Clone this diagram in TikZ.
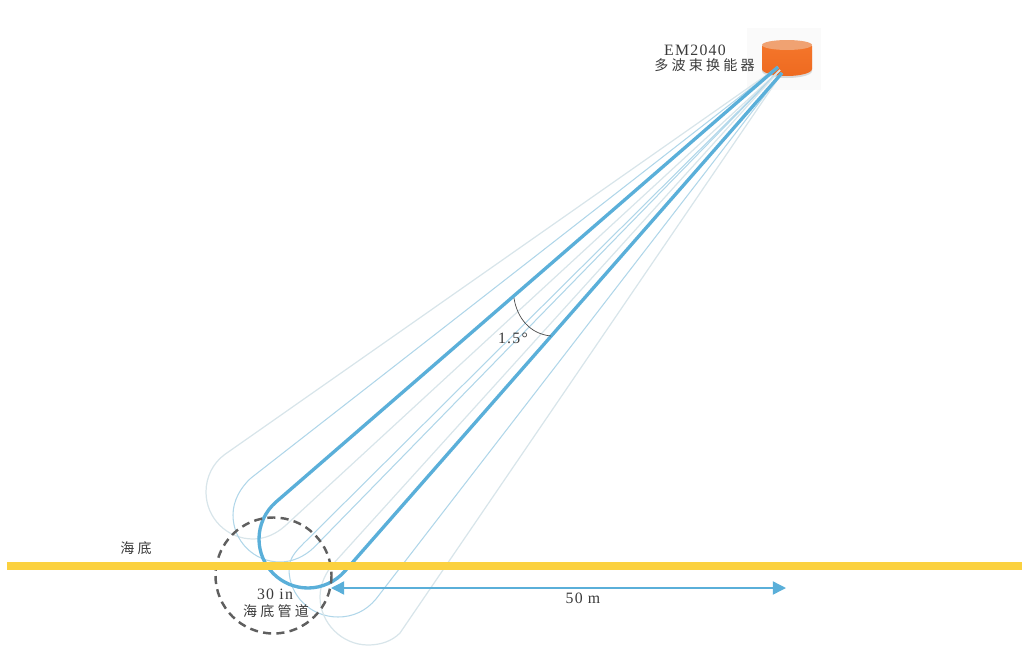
\documentclass[tikz,border=0pt]{standalone}
\usepackage{fontspec}
\usetikzlibrary{arrows.meta}
\setmainfont[LetterSpace=8]{Liberation Serif}
\newfontfamily\cjk[LetterSpace=23]{Noto Sans CJK SC}
\definecolor{beamblue}{HTML}{5AAFD9}
\definecolor{beamlight}{HTML}{B0D6E9}
\definecolor{beamfaint}{HTML}{D8E5EA}
\definecolor{seabed}{HTML}{FBD13F}
\definecolor{ringgray}{HTML}{5F5F5F}
\definecolor{labelgray}{HTML}{3A3A3A}
\definecolor{drumside}{HTML}{F4752A}
\definecolor{drumlow}{HTML}{EE6A20}
\definecolor{drumtop}{HTML}{F0A272}
\tikzset{
  mainbeam/.style={draw=beamblue, line width=1.9pt, line join=round},
  sidebeam/.style={draw=beamlight, line width=0.6pt},
  farbeam/.style={draw=beamfaint, line width=0.7pt},
  lbl/.style={text=labelgray, font=\fontsize{9}{10.5}\selectfont, inner sep=0pt, align=center},
  cjklbl/.style={lbl, font=\fontsize{8}{9.5}\selectfont\cjk},
}
\begin{document}
\begin{tikzpicture}[>=stealth, x=0.02cm, y=-0.02cm]
      \useasboundingbox (0,0) rectangle (1029,660);
      % transducer
      \fill[black!2] (747,28) rectangle (821,90);
      \fill[black!15] (762,50) -- (762,71) arc[x radius=25, y radius=7, start angle=180, end angle=0] -- (812,50) -- cycle;
      \shade[top color=drumside, bottom color=drumlow] (762,46) -- (762,69) arc[x radius=25, y radius=7, start angle=180, end angle=0] -- (812,46) -- cycle;
      \fill[drumtop] (787,45) ellipse[x radius=25, y radius=5];
      \coordinate (apexL) at (778,67);
      \coordinate (apexM) at (780,70);
      \coordinate (apexR) at (782,73);
      % beams
      \draw[farbeam] (apexL) -- (224.7,454.5) .. controls (213,463) and (206,477) .. (206,492)
        .. controls (206,518) and (227,539) .. (253,539)
        .. controls (265,539) and (276,534) .. (285,526) -- (apexM);
      \draw[sidebeam] (apexL) -- (251,478) .. controls (240.3,487.7) and (233,501) .. (233,515)
        .. controls (233,541) and (254,562) .. (280,562)
        .. controls (292.7,562) and (304.6,556.4) .. (313.8,547.6) -- (apexM);
      \draw[sidebeam] (apexM) -- (307,540) .. controls (298,549) and (289,557) .. (289,569)
        .. controls (289,596) and (311,617) .. (338,617)
        .. controls (353,617) and (366,611) .. (376,599) -- (apexR);
      \draw[farbeam] (apexM) -- (334,563) .. controls (326,572) and (320,584) .. (320,597)
        .. controls (320,623) and (342,645) .. (368,645)
        .. controls (381,645) and (392,641) .. (400,633) -- (apexR);
      \draw[mainbeam] (apexL) -- (276,502) .. controls (265.2,511.3) and (259,525) .. (259,539)
        .. controls (259,566) and (281,588) .. (308,588)
        .. controls (322,588) and (335.8,581.6) .. (345,571) -- (apexR);
      % angle
      \draw[black!70, line width=0.4pt] (514,298) .. controls (517,318) and (530,334) .. (551,336);
      \node[lbl] (angleLabel) at (513,338) {1.5°};
      % pipe
      \draw[ringgray, line width=1.4pt, dash pattern=on 4.6pt off 3pt] (273.5,575.5) circle (58);
      % seabed
      \draw[seabed, line width=4pt] (7,566) -- (1022,566);
      % width
      \coordinate (widthL) at (331,588);
      \coordinate (widthR) at (786,588);
      \draw[beamblue, line width=0.8pt, {Triangle[length=7.5pt,width=7.5pt]}-{Triangle[length=7.5pt,width=7.5pt]}] (widthL) -- (widthR);
      \node[lbl] (widthLabel) at (583,598) {50 m};
      \node[lbl] (modelLabel) at (695,50) {EM2040};
      \node[cjklbl] (transLabel) at (704.5,65) {多波束换能器};
      \node[cjklbl] (seaLabel) at (136,548) {海底};
      \node[lbl] (pipeSize) at (275,594) {30 in};
      \node[cjklbl] (pipeLabel) at (276,611) {海底管道};
\end{tikzpicture}
\end{document}
